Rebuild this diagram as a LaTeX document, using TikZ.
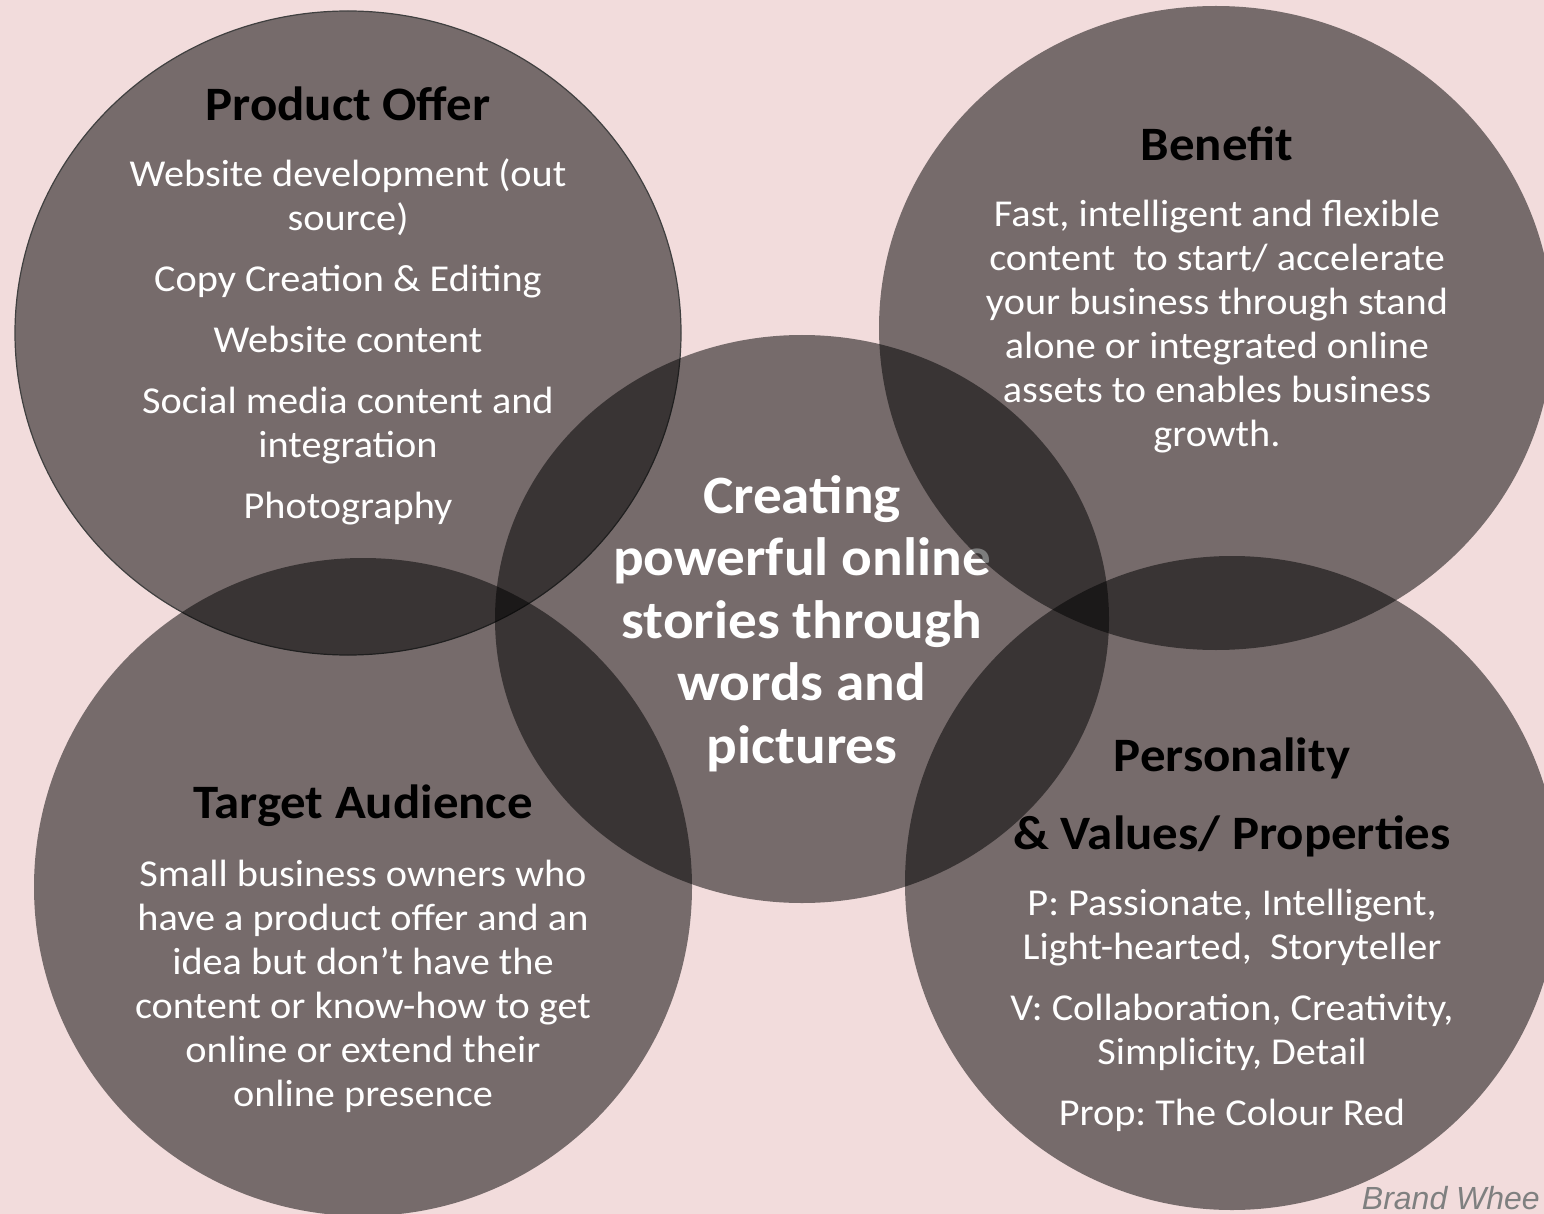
\documentclass[tikz,border=0pt]{standalone}
\usepackage{fontspec}
\setmainfont{Carlito}[FakeStretch=1.06]
\newfontfamily\tagfont{Liberation Sans}
\usetikzlibrary{positioning}
\frenchspacing

\definecolor{blush}{HTML}{F2DCDC}
\definecolor{taggray}{HTML}{7F8080}

\tikzset{
  disc/.style={fill=black, fill opacity=0.51},
  headtext/.style={font=\fontsize{48}{53}\selectfont\bfseries, text=black, align=center, inner sep=0pt},
  bodytext/.style={font=\fontsize{38}{44}\selectfont, text=white, align=center, inner sep=0pt},
  hubtext/.style={font=\fontsize{54}{62.5}\selectfont\bfseries, text=white, align=center, inner sep=0pt}
}

\begin{document}
\begin{tikzpicture}[x=1pt, y=-1pt]
%\draw[help lines] (0,0) grid (1544,1214);
\useasboundingbox (0,0) rectangle (1544,1214);
\fill[blush] (0,0) rectangle (1544,1214);

% product offer
\fill[disc, draw=black!75, draw opacity=1, line width=1.2pt] (348,333) ellipse [x radius=333, y radius=322];
\node[headtext, anchor=base] (offer) at (348,121) {Product Offer};
\node[bodytext, anchor=north] (offerlist) at (348,159)
  {Website development (out\\ source)\\[17pt]
   Copy Creation \& Editing\\[17pt]
   Website content\\[17pt]
   Social media content and\\ integration\\[17pt]
   Photography};

% target audience
\fill[disc] (363,887) ellipse [x radius=329, y radius=329];
\node[headtext, anchor=base] (audience) at (363,818) {Target Audience};
\node[bodytext, anchor=north] (audiencetext) at (363,860)
  {Small business owners who\\ have a product offer and an\\ idea but don’t have the\\
   content or know-how to get\\ online or extend their\\ online presence};

% hub
\fill[disc] (802,619) ellipse [x radius=307, y radius=284];
\node[hubtext, anchor=north] (hub) at (802,475)
  {Creating\\ powerful online\\ stories through\\ words and\\ pictures};

% benefit
\fill[disc] (1216,328) ellipse [x radius=337, y radius=322];
\node[headtext, anchor=base] (benefit) at (1217,161) {Benefit};
\node[bodytext, anchor=north] (benefittext) at (1217,200)
  {Fast, intelligent and flexible\\ content\ \ to start/ accelerate\\
   your business through stand\\ alone or integrated online\\
   assets to enables business\\ growth.};

% personality and values
\fill[disc] (1232,883) ellipse [x radius=327, y radius=327];
\node[headtext, anchor=base] (persona) at (1232,771) {Personality};
\node[headtext, anchor=base] (values) at (1232,849) {\& Values/ Properties};
\node[bodytext, anchor=north] (valuestext) at (1232,889)
  {P: Passionate, Intelligent,\\ Light-hearted,\ \ Storyteller\\[17pt]
   V: Collaboration, Creativity,\\ Simplicity, Detail\\[17pt]
   Prop: The Colour Red};

\node[font=\tagfont\itshape\fontsize{32}{38}\selectfont, text=taggray, anchor=base east, inner sep=0pt] (tag) at (1540,1209) {Brand Whee};
\end{tikzpicture}
\end{document}
